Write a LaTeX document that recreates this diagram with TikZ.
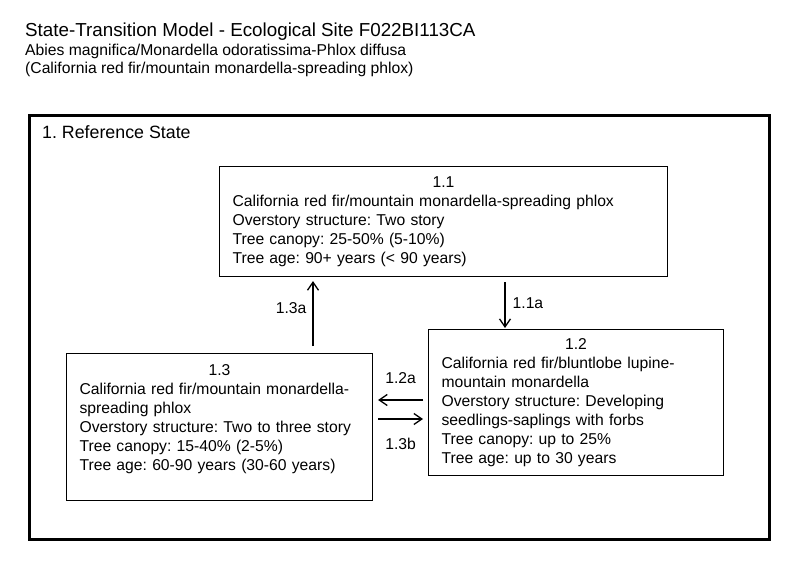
\documentclass[tikz,border=0pt]{standalone}
\usepackage{fontspec}
\setmainfont{Liberation Sans}
\usetikzlibrary{arrows.meta}
\frenchspacing

\begin{document}
\begin{tikzpicture}[
  x=1bp, y=-1bp,
  every node/.style={font=\fontsize{15.7bp}{19bp}\selectfont},
  heading line/.style={anchor=base west, inner sep=0pt},
  state box/.style={draw, line width=1.1bp, anchor=north west, align=left, inner xsep=13bp, inner ysep=0pt},
  transition/.style={line width=1.3bp, -{Straight Barb[length=8bp,width=11bp]}},
  transition label/.style={inner sep=2bp},
]
\useasboundingbox (0,0) rectangle (800,567);
\node[heading line, font=\fontsize{18.8bp}{22bp}\selectfont] (title) at (25,37) {State-Transition Model - Ecological Site F022BI113CA};
\node[heading line] (latin) at (25,56) {Abies magnifica/Monardella odoratissima-Phlox diffusa};
\node[heading line] (common) at (25,74) {(California red fir/mountain monardella-spreading phlox)};
% state frame
\node[draw, line width=3bp, anchor=north west, minimum width=740bp, minimum height=424bp] (state1) at (28,114) {};
\node[heading line, font=\fontsize{17.8bp}{21bp}\selectfont] (state1 name) at (42,139) {1. Reference State};
% community phases
\node[state box, text width=422bp, minimum height=110bp] (phase11) at (219,166) {\makebox[\hsize]{1.1}\\California red fir/mountain monardella-spreading phlox\\Overstory structure: Two story\\Tree canopy: 25-50\% (5-10\%)\\Tree age: 90+ years (< 90 years)};
\node[state box, text width=269bp, minimum height=146bp] (phase12) at (428,329) {\makebox[\hsize]{1.2}\\California red fir/bluntlobe lupine-\\mountain monardella\\Overstory structure: Developing\\seedlings-saplings with forbs\\Tree canopy: up to 25\%\\Tree age: up to 30 years};
\node[state box, text width=280bp, minimum height=147bp] (phase13) at (66,353) {\makebox[\hsize]{1.3}\\California red fir/mountain monardella-\\spreading phlox\\Overstory structure: Two to three story\\Tree canopy: 15-40\% (2-5\%)\\Tree age: 60-90 years (30-60 years)\\ \mbox{}};
% transitions
\draw[transition, shorten <=5bp, shorten >=1bp] (505,0 |- phase11.south) -- node[transition label, right=5bp] (t11a) {1.1a} (505,0 |- phase12.north);
\draw[transition, shorten <=7bp, shorten >=4bp] (313,0 |- phase13.north) -- node[transition label, left=4bp, pos=0.59] (t13a) {1.3a} (313,0 |- phase11.south);
\draw[transition, shorten <=5bp, shorten >=5bp] (phase12.west |- 0,400) -- node[transition label, above=14bp] (t12a) {1.2a} (phase13.east |- 0,400);
\draw[transition, shorten <=5bp, shorten >=5bp] (phase13.east |- 0,419) -- node[transition label, below=16.5bp] (t13b) {1.3b} (phase12.west |- 0,419);
\end{tikzpicture}
\end{document}
